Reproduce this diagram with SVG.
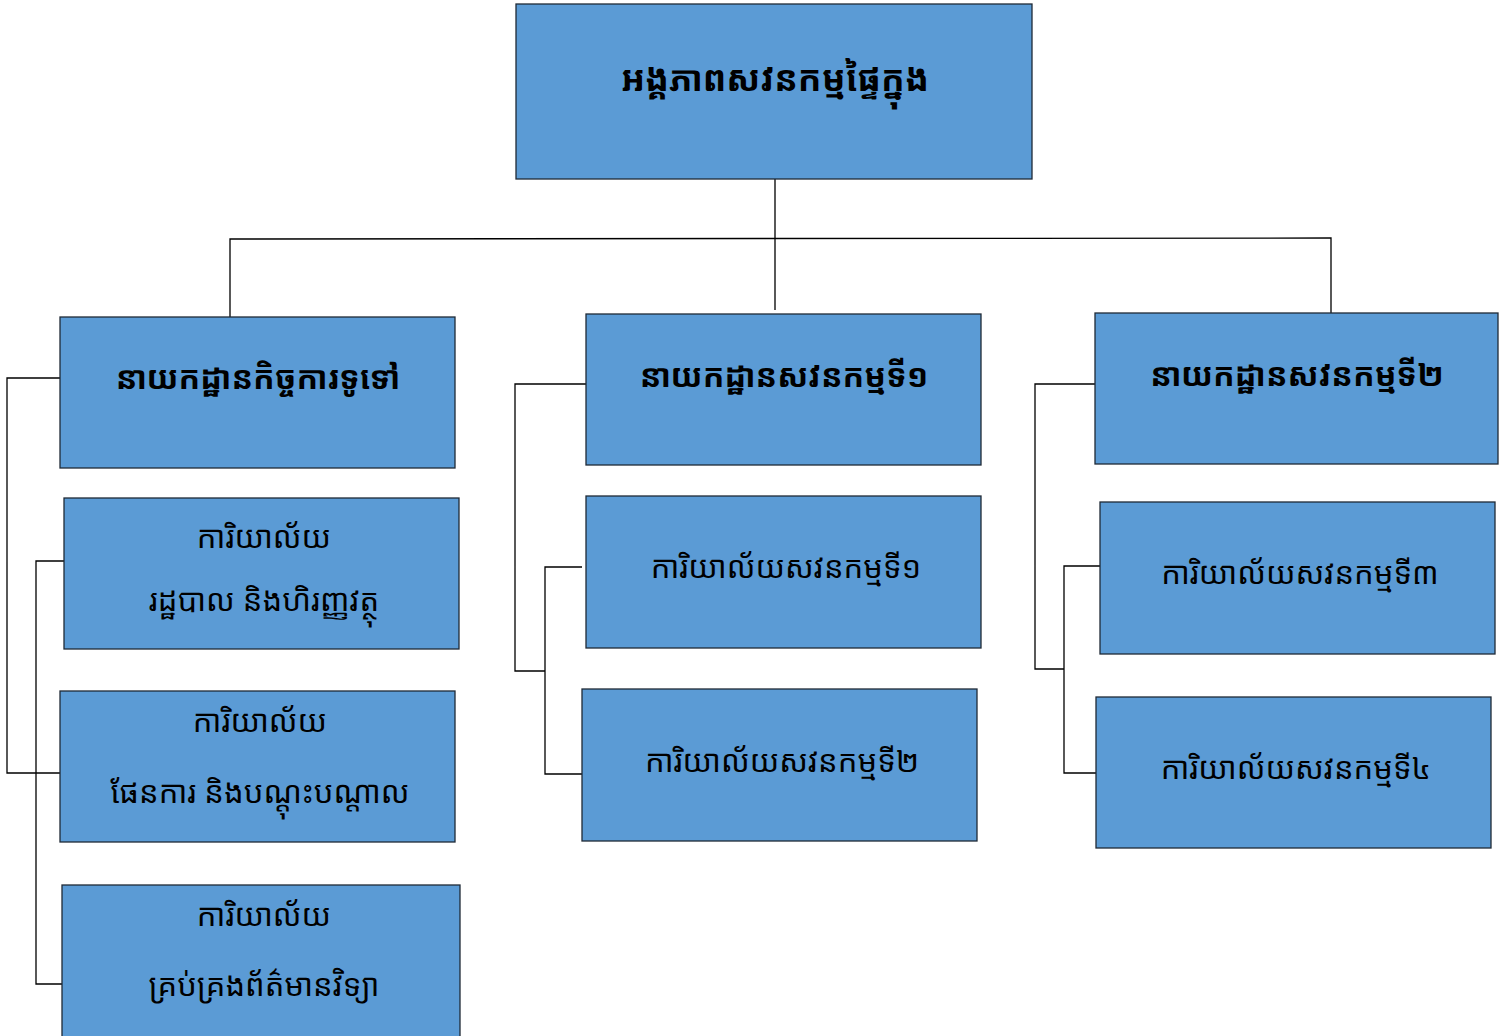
<svg xmlns="http://www.w3.org/2000/svg" width="1507" height="1036" viewBox="0 0 1507 1036">
<style>
.box{fill:#5B9BD5;stroke:#1F2A36;stroke-width:1.3}
.ln{fill:none;stroke:#000;stroke-width:1.3}
.t{font-family:"Noto Sans Khmer","Khmer OS","Noto Sans","DejaVu Sans",sans-serif;fill:#000;text-anchor:middle;dominant-baseline:central}
.h{font-weight:bold;font-size:35px}
.d{font-weight:bold;font-size:32px}
.o{font-size:31px}
</style>
<rect width="1507" height="1036" fill="#fff"/>
<g id="connectors">
<path class="ln" d="M775 179V310M230 317V239L1331 238V313"/>
<path class="ln" d="M60 378H7V773H60M64 561H36V984H62"/>
<path class="ln" d="M586 384H515V671H545M582 567H545V774H582"/>
<path class="ln" d="M1095 384H1035V669H1064M1100 566H1064V773H1096"/>
</g>
<g id="root"><rect class="box" x="516" y="4" width="516" height="175"/><text class="t h" x="775" y="77">អង្គភាពសវនកម្មផ្ទៃក្នុង</text></g>
<g id="dept-general"><rect class="box" x="60" y="317" width="395" height="151"/><text class="t d" x="258" y="376">នាយកដ្ឋានកិច្ចការទូទៅ</text></g>
<g id="dept-audit1"><rect class="box" x="586" y="314" width="395" height="151"/><text class="t d" x="784" y="374">នាយកដ្ឋានសវនកម្មទី១</text></g>
<g id="dept-audit2"><rect class="box" x="1095" y="313" width="403" height="151"/><text class="t d" x="1297" y="373">នាយកដ្ឋានសវនកម្មទី២</text></g>
<g id="office-admin"><rect class="box" x="64" y="498" width="395" height="151"/><text class="t o" x="264" y="536">ការិយាល័យ</text><text class="t o" x="264" y="599">រដ្ឋបាល និងហិរញ្ញវត្ថុ</text></g>
<g id="office-plan"><rect class="box" x="60" y="691" width="395" height="151"/><text class="t o" x="260" y="720">ការិយាល័យ</text><text class="t o" x="260" y="791">ផែនការ និងបណ្តុះបណ្តាល</text></g>
<g id="office-it"><rect class="box" x="62" y="885" width="398" height="160"/><text class="t o" x="264" y="914">ការិយាល័យ</text><text class="t o" x="264" y="984">គ្រប់គ្រងព័ត៌មានវិទ្យា</text></g>
<g id="office-audit1"><rect class="box" x="586" y="496" width="395" height="152"/><text class="t o" x="786" y="566">ការិយាល័យសវនកម្មទី១</text></g>
<g id="office-audit2"><rect class="box" x="582" y="689" width="395" height="152"/><text class="t o" x="782" y="760">ការិយាល័យសវនកម្មទី២</text></g>
<g id="office-audit3"><rect class="box" x="1100" y="502" width="395" height="152"/><text class="t o" x="1300" y="572">ការិយាល័យសវនកម្មទី៣</text></g>
<g id="office-audit4"><rect class="box" x="1096" y="697" width="395" height="151"/><text class="t o" x="1296" y="767">ការិយាល័យសវនកម្មទី៤</text></g>
</svg>
